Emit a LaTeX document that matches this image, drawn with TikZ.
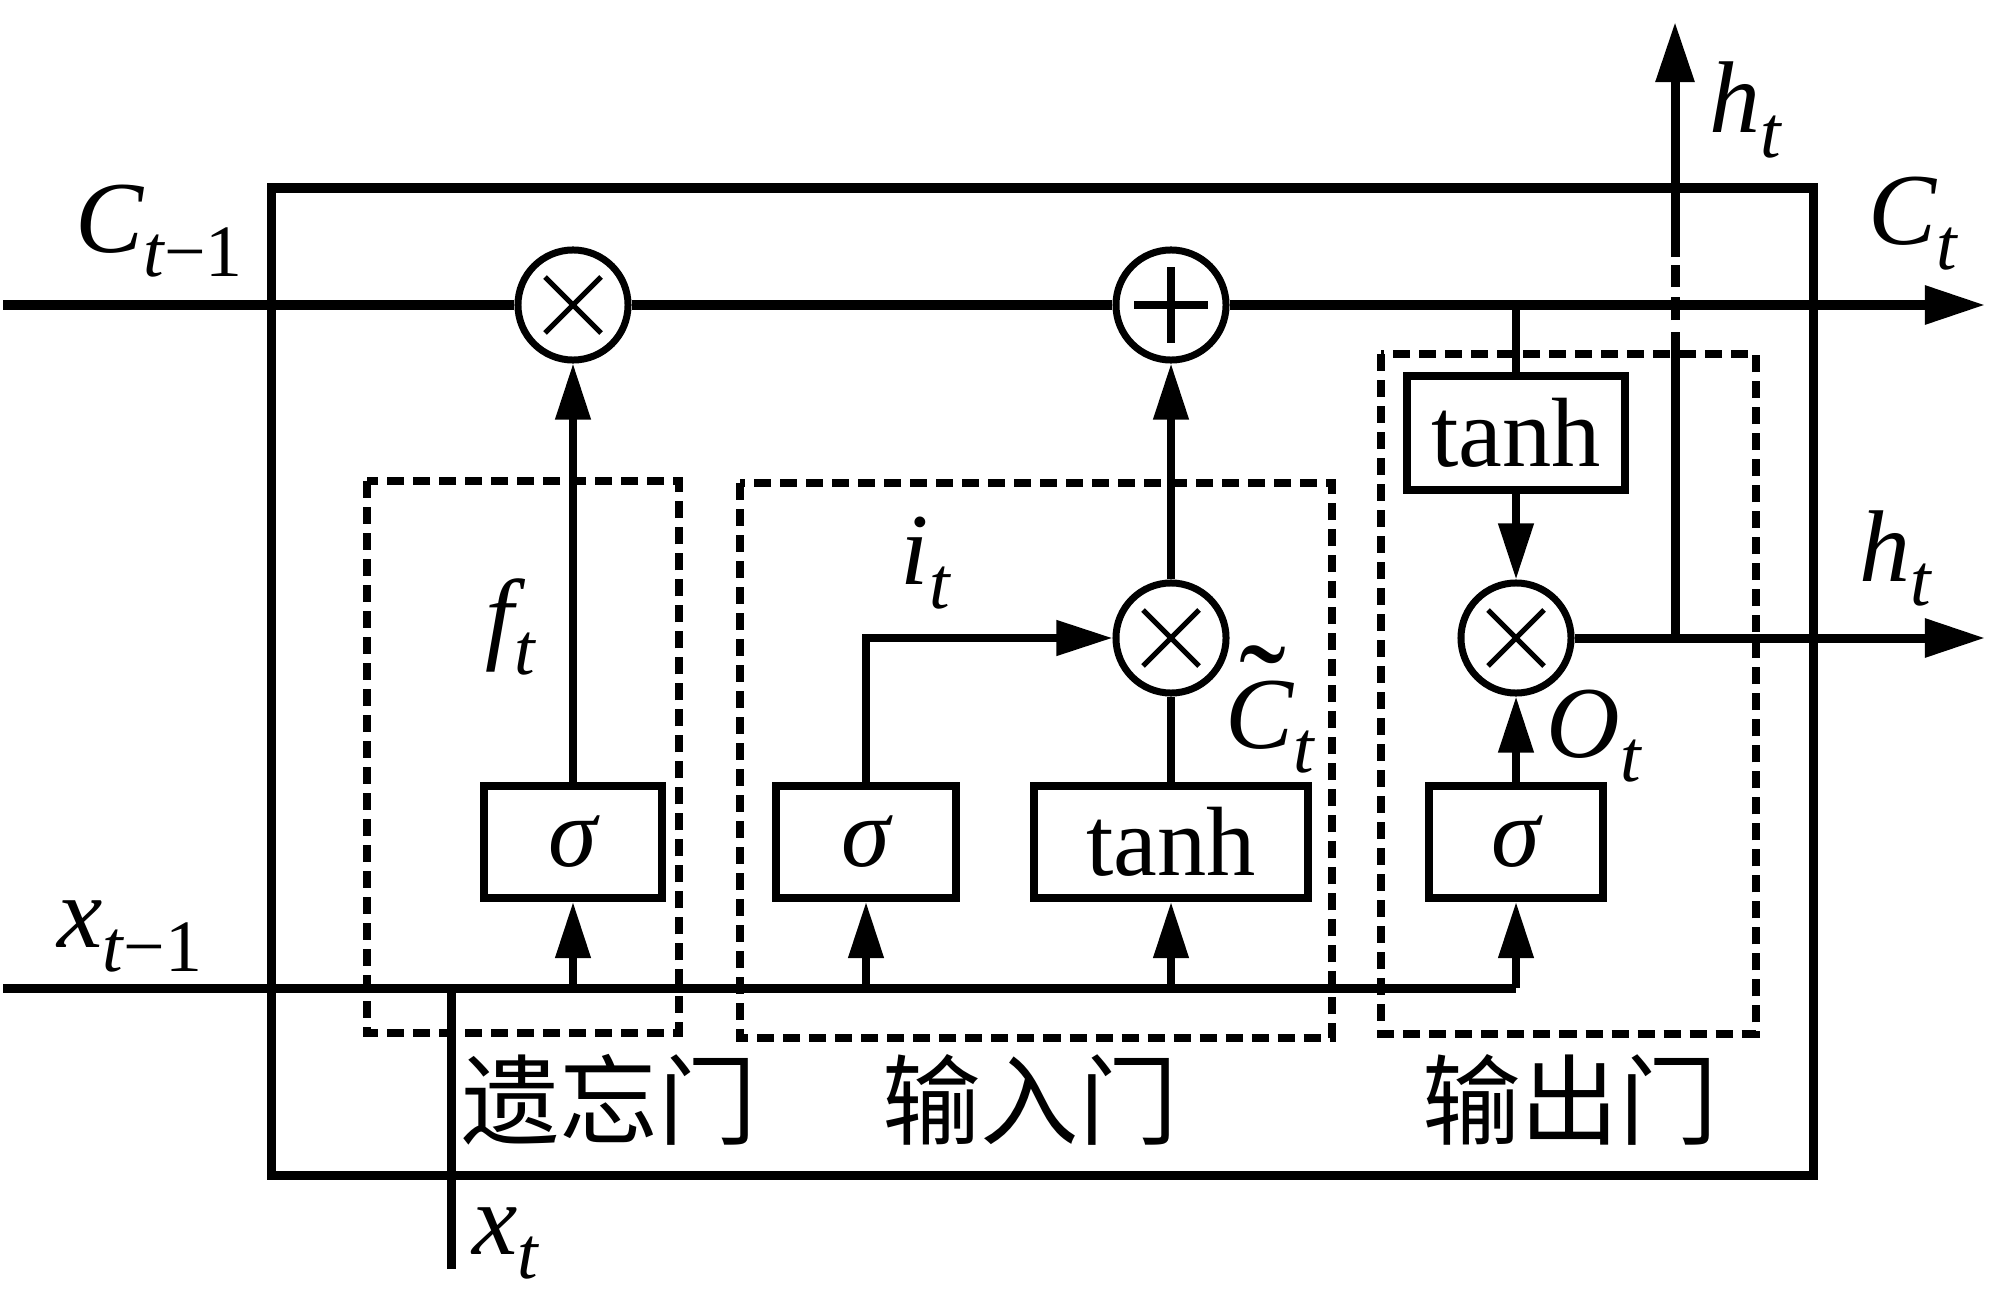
\documentclass[tikz,border=0pt]{standalone}
\usepackage{fontspec}
\setmainfont{Liberation Serif}
\newfontfamily\cjk{Noto Sans CJK SC}
\usetikzlibrary{arrows.meta}
\newcommand\mylab[2]{{\fontsize{29}{30}\selectfont\itshape #1}\raisebox{-7pt}{\fontsize{21}{22}\selectfont\itshape #2}}
\newcommand\tildeC{\makebox[0pt][l]{\hspace{4pt}\raisebox{2pt}{\fontsize{40}{40}\selectfont\upshape ˜}}C}
\newcommand\crossat[1]{\draw[line width=0.05cm] ([shift={(-28,-28)}]#1.center) -- ([shift={(28,28)}]#1.center) ([shift={(-28,28)}]#1.center) -- ([shift={(28,-28)}]#1.center);}
\newcommand\plusat[1]{\draw[line width=0.075cm] ([shift={(-37,0)}]#1.center) -- ([shift={(37,0)}]#1.center) ([shift={(0,-38)}]#1.center) -- ([shift={(0,38)}]#1.center);}
\begin{document}
\begin{tikzpicture}[x=0.01cm,y=-0.01cm,
 main/.style={line width=0.09cm},
 conn/.style={line width=0.075cm},
 arr/.style={conn,-{Triangle[length=0.56cm,width=0.34cm]}},
 marr/.style={main,-{Triangle[length=0.6cm,width=0.37cm]}},
 gatebox/.style={draw,line width=0.08cm,minimum height=1.12cm,inner sep=0,font=\fontsize{28}{30}\selectfont},
 opcirc/.style={draw,circle,fill=white,line width=0.07cm,minimum size=1.1cm,inner sep=0},
 dashbox/.style={line width=0.085cm,dash pattern=on 0.17cm off 0.09cm},
 lab/.style={inner sep=0,anchor=base west},
 cn/.style={inner sep=0,font=\cjk\fontsize{28}{30}\selectfont}]
\useasboundingbox (0,0) rectangle (2000,1291);

% outer cell box
\draw[main] (271,188) rectangle (1813,1175);

% dashed gate boxes
\draw[dashbox] (367,481) rectangle (679,1033);
\draw[dashbox] (740,483) rectangle (1332,1038);
\draw[dashbox] (1381,354) rectangle (1756,1034);

% coordinates
\coordinate (cin) at (3,305);
\coordinate (cout) at (1985,305);
\coordinate (xin) at (3,988);
\coordinate (xt) at (451,1269);
\coordinate (j1) at (1516,305);
\coordinate (j2) at (1675,638);
\coordinate (hout) at (1985,638);
\coordinate (htop) at (1675,22);

% operators
\node[opcirc] (fx) at (573,305) {};
\node[opcirc] (plus) at (1171,305) {};
\node[opcirc] (ix) at (1171,638) {};
\node[opcirc] (ox) at (1516,638) {};
\crossat{fx}
\plusat{plus}
\crossat{ix}
\crossat{ox}

% gate boxes
\node[gatebox,minimum width=1.78cm] (sigF) at (573,842) {\itshape σ};
\node[gatebox,minimum width=1.79cm] (sigI) at (866,842) {\itshape σ};
\node[gatebox,minimum width=2.73cm] (tanhL) at (1171,842) {tanh};
\node[gatebox,minimum width=1.73cm] (sigO) at (1516,842) {\itshape σ};
\node[gatebox,minimum width=2.18cm,minimum height=1.14cm] (tanhU) at (1516,433) {tanh};

% cell state line
\draw[main] (cin) -- (fx);
\draw[main] (fx) -- (plus);
\draw[marr] (plus) -- (cout);

% input line x
\draw[main] (xt) -- (xt |- xin);
\draw[main] (xin) -- (sigO |- xin);
\draw[arr] (sigF |- xin) -- (sigF);
\draw[arr] (sigI |- xin) -- (sigI);
\draw[arr] (tanhL |- xin) -- (tanhL);
\draw[arr] (sigO |- xin) -- (sigO);

% gate connections
\draw[arr] (sigF) -- (fx);
\draw[arr] (sigI) |- (ix);
\draw[conn] (tanhL) -- (ix);
\draw[arr] (ix) -- (plus);
\draw[conn] (j1) -- (tanhU);
\draw[arr] (tanhU) -- (ox);
\draw[arr] (sigO) -- (ox);

% hidden output
\draw[marr] (ox) -- (hout);
\draw[main] (j2) -- (1675,332);
\draw[main] (1675,320) -- (1675,297);
\draw[main] (1675,287) -- (1675,265);
\draw[marr] (1675,257) -- (htop);

% labels
\node[lab] (lC0) at (75,252) {\mylab{C}{t\upshape −1}};
\node[lab] (lx0) at (57,947) {\mylab{x}{t\upshape −1}};
\node[lab] (lxt) at (472,1254) {\mylab{x}{t}};
\node[lab] (lft) at (485,650) {\mylab{f}{t}};
\node[lab] (lit) at (900,584) {\mylab{i}{t}};
\node[lab] (lCt) at (1225,748) {\mylab{\tildeC}{t}};
\node[lab] (lOt) at (1546,757) {\mylab{O}{t}};
\node[lab] (lh1) at (1709,133) {\mylab{h}{t}};
\node[lab] (lC1) at (1868,245) {\mylab{C}{t}};
\node[lab] (lh2) at (1859,581) {\mylab{h}{t}};

\node[cn] (gF) at (609,1100) {遗忘门};
\node[cn] (gI) at (1030,1100) {输入门};
\node[cn] (gO) at (1570,1100) {输出门};
\end{tikzpicture}
\end{document}
